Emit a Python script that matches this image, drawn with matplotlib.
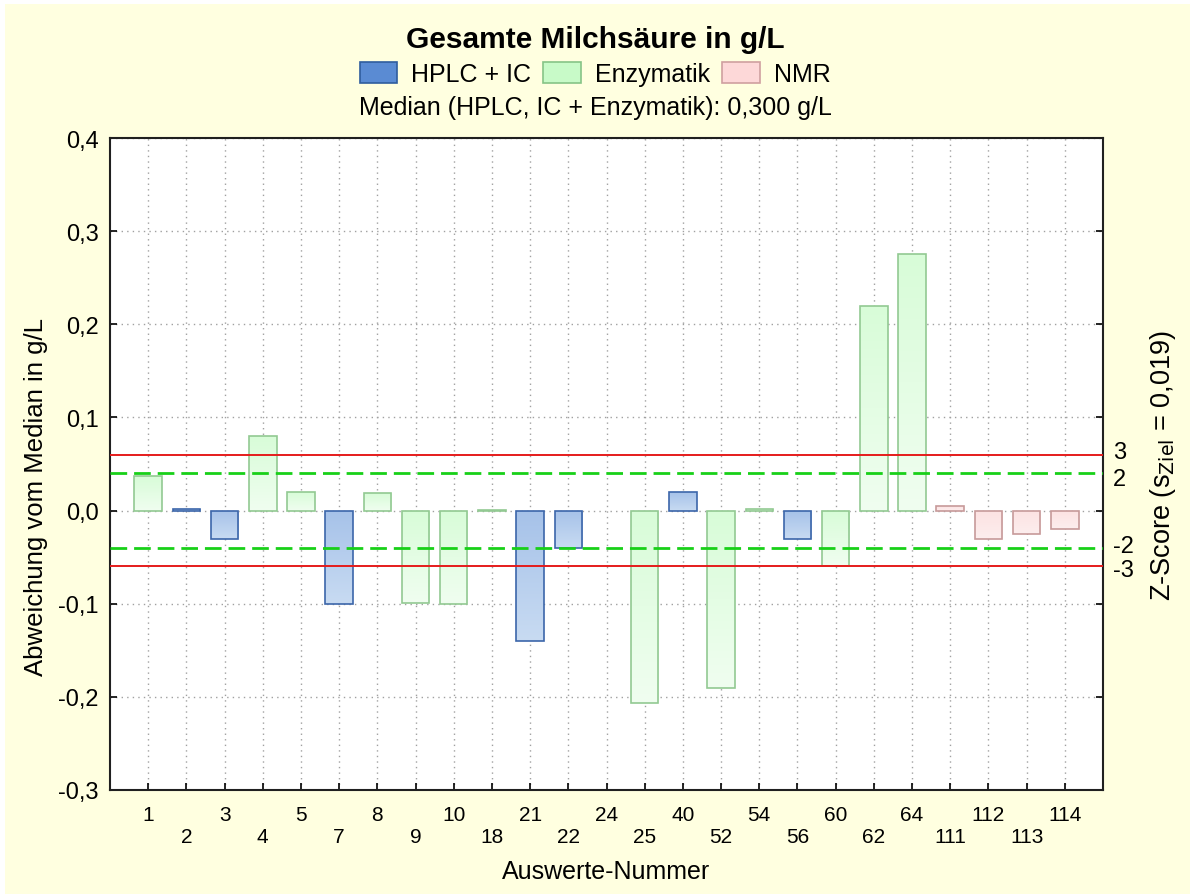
import numpy as np
import matplotlib
matplotlib.use("Agg")
import matplotlib.pyplot as plt
from matplotlib.patches import Patch, Rectangle
from matplotlib.colors import LinearSegmentedColormap

plt.rcParams["font.family"] = ["Liberation Sans", "DejaVu Sans"]

# Auswerte-Nummern und Abweichung vom Median (g/L)
ids = ["1", "2", "3", "4", "5", "7", "8", "9", "10", "18", "21", "22", "24",
       "25", "40", "52", "54", "56", "60", "62", "64", "111", "112", "113", "114"]
deviation = [0.037, 0.002, -0.031, 0.080, 0.020, -0.100, 0.019, -0.099, -0.100,
             0.0005, -0.140, -0.040, np.nan, -0.207, 0.020, -0.190, 0.002, -0.030,
             -0.060, 0.220, 0.275, 0.005, -0.030, -0.025, -0.020]
method = ["Enzymatik", "HPLC + IC", "HPLC + IC", "Enzymatik", "Enzymatik",
          "HPLC + IC", "Enzymatik", "Enzymatik", "Enzymatik", "Enzymatik",
          "HPLC + IC", "HPLC + IC", "", "Enzymatik", "HPLC + IC", "Enzymatik",
          "Enzymatik", "HPLC + IC", "Enzymatik", "Enzymatik", "Enzymatik",
          "NMR", "NMR", "NMR", "NMR"]

median = 0.300
s_ziel = 0.019
z_lines = [3, 2, -2, -3]
z_values = [0.06, 0.04, -0.04, -0.06]

# Farben: Legende, Verlauf oben/unten, Rahmen
styles = {
    "HPLC + IC": dict(legend="#5a8bd3", ledge="#2f5d9e", top="#a6c2e9", bottom="#c8dbf2", edge="#3c66aa"),
    "Enzymatik": dict(legend="#c8fac8", ledge="#86c486", top="#d8fcd8", bottom="#f0fef0", edge="#92c992"),
    "NMR": dict(legend="#fdd8d8", ledge="#cfa0a0", top="#fce2e2", bottom="#fdeeee", edge="#c79a9a"),
}

fig = plt.figure(figsize=(11.9, 8.95), dpi=100, facecolor="white")
fig.patches.append(Rectangle((5 / 1190, 0), 1, 1 - 5 / 895, transform=fig.transFigure,
                             facecolor="#ffffe0", edgecolor="none", zorder=-10))
ax = fig.add_axes([110 / 1190, 1 - 791 / 895, 993 / 1190, 652 / 895])

x = np.arange(1, len(ids) + 1)
for xi, val, m in zip(x, deviation, method):
    if np.isnan(val):
        continue
    st = styles[m]
    bar = ax.bar(xi, val, width=0.72, facecolor="none", edgecolor=st["edge"],
                 linewidth=1.2, zorder=3)[0]
    cmap = LinearSegmentedColormap.from_list("g", [st["top"], st["bottom"]])
    grad = np.linspace(0, 1, 128).reshape(-1, 1)
    lo, hi = min(0, val), max(0, val)
    im = ax.imshow(grad, extent=[xi - 0.36, xi + 0.36, lo, hi], aspect="auto",
                   cmap=cmap, origin="upper", zorder=2, interpolation="bilinear")
    im.set_clip_path(bar)

for z, v in zip(z_lines, z_values):
    if abs(z) == 3:
        ax.axhline(v, color="#e51b1b", linewidth=1.4, zorder=4)
    else:
        ax.axhline(v, color="#18d018", linewidth=2, linestyle=(0, (6, 2.5)), zorder=4)

ax.set_xlim(0, len(ids) + 1)
ax.set_ylim(-0.3, 0.4)
ax.set_yticks(np.arange(-0.3, 0.41, 0.1))
ax.set_yticklabels([f"{t:.1f}".replace(".", ",") for t in np.arange(-0.3, 0.41, 0.1)])
ax.set_xticks(x)
ax.set_xticklabels([s if i % 2 == 0 else "\n" + s for i, s in enumerate(ids)])
ax.tick_params(axis="y", direction="in", length=5, width=1.2, right=True, labelsize=17, pad=8)
ax.tick_params(axis="x", direction="in", length=5, width=1.2, labelsize=15, pad=11)
ax.grid(True, color="#a0a0a0", linestyle=(0, (1, 3)), linewidth=1, zorder=0)
ax.set_axisbelow(True)
for sp in ax.spines.values():
    sp.set_linewidth(1.5)
    sp.set_color("#202020")

ax.set_xlabel("Auswerte-Nummer", fontsize=18, labelpad=9)
ax.set_ylabel("Abweichung vom Median in g/L", fontsize=18.5)
ax.yaxis.set_label_coords(-0.062, 0.451)

# Z-Score Beschriftung rechts
offsets = [3, -6, 2, -4]
for z, v, off in zip(z_lines, z_values, offsets):
    ax.annotate(str(z), xy=(1, v), xycoords=("axes fraction", "data"),
                xytext=(10, off), textcoords="offset pixels", ha="left",
                va="center", fontsize=17)
ax.text(1.06, 0.5, "Z-Score (s$_{\\mathrm{Ziel}}$ = " + f"{s_ziel:.3f}".replace(".", ",") + ")",
        transform=ax.transAxes, rotation=90, ha="center", va="center", fontsize=19.5)

fig.text(0.5, 1 - 40 / 895, "Gesamte Milchsäure in g/L", ha="center", va="center",
         fontsize=21.5, fontweight="bold")
handles = [Patch(facecolor=st["legend"], edgecolor=st["ledge"], linewidth=1.2, label=k)
           for k, st in styles.items()]
fig.legend(handles=handles, loc="center", bbox_to_anchor=(0.5, 1 - 75 / 895), ncol=3,
           frameon=False, fontsize=18, handlelength=1.5, handleheight=0.9,
           handletextpad=0.55, columnspacing=0.5, borderpad=0)
fig.text(0.5, 1 - 108 / 895,
         "Median (HPLC, IC + Enzymatik): " + f"{median:.3f}".replace(".", ",") + " g/L",
         ha="center", va="center", fontsize=18)

fig.savefig("out.png", dpi=100, facecolor=fig.get_facecolor())
